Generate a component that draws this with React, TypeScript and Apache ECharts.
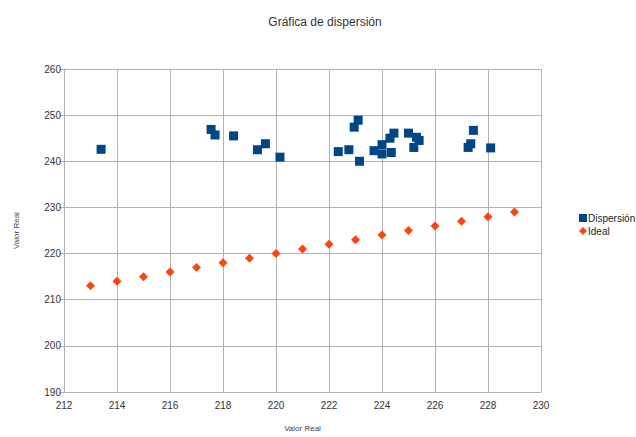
import React, { useEffect, useRef } from "react";
import * as echarts from "echarts";

const titleText = "Gráfica de dispersión";
const xAxisName = "Valor Real";
const yAxisName = "Valor Real";
const seriesNames = ["Dispersión", "Ideal"];

const dispX = [213.4, 217.55, 217.7, 218.4, 219.3, 219.6, 220.15, 222.35, 222.75, 222.95, 223.1, 223.15, 223.7, 224.0, 224.0, 224.35, 224.3, 224.45, 225.0, 225.3, 225.4, 225.2, 227.45, 227.35, 227.25, 228.1];
const dispY = [242.6, 246.9, 245.7, 245.5, 242.5, 243.8, 240.9, 242.1, 242.5, 247.4, 248.9, 240.0, 242.3, 243.6, 241.6, 241.9, 245.0, 246.1, 246.1, 245.2, 244.5, 243.0, 246.7, 243.8, 243.0, 242.9];

const idealX = [213, 214, 215, 216, 217, 218, 219, 220, 221, 222, 223, 224, 225, 226, 227, 228, 229];
const idealY = [213, 214, 215, 216, 217, 218, 219, 220, 221, 222, 223, 224, 225, 226, 227, 228, 229];

export default function App() {
  const ref = useRef<HTMLDivElement>(null);
  useEffect(() => {
    if (!ref.current) return;
    const chart = echarts.init(ref.current, null, { renderer: "svg" });
    const font = "'Liberation Sans', Arial, sans-serif";
    chart.setOption({
      animation: false,
      backgroundColor: "#ffffff",
      textStyle: { fontFamily: font },
      title: {
        text: titleText,
        left: 320,
        textAlign: "center",
        top: 11,
        textStyle: { fontSize: 12, fontWeight: "normal", color: "#333", fontFamily: font },
      },
      legend: {
        orient: "vertical",
        left: 574,
        top: 208,
        itemWidth: 8,
        itemHeight: 8,
        itemGap: 3,
        textStyle: { fontSize: 10, color: "#222", padding: [0, 0, 0, -4] },
        data: [
          { name: seriesNames[0], icon: "rect" },
          { name: seriesNames[1], icon: "diamond" },
        ],
      },
      grid: { left: 64, right: 95, top: 69, bottom: 42, containLabel: false },
      xAxis: {
        type: "value",
        min: 212,
        max: 230,
        interval: 2,
        name: xAxisName,
        nameLocation: "middle",
        nameGap: 32,
        nameTextStyle: { fontSize: 8, color: "#444" },
        axisLine: { show: true, onZero: false, lineStyle: { color: "#b3b3b3" } },
        axisTick: { show: false },
        axisLabel: { fontSize: 10, color: "#333", margin: 8 },
        splitLine: { show: true, lineStyle: { color: "#b3b3b3", width: 1 } },
      },
      yAxis: {
        type: "value",
        min: 190,
        max: 260,
        interval: 10,
        name: yAxisName,
        nameLocation: "middle",
        nameGap: 44,
        nameTextStyle: { fontSize: 8, color: "#444" },
        axisLine: { show: true, onZero: false, lineStyle: { color: "#b3b3b3" } },
        axisTick: { show: true, length: 5, lineStyle: { color: "#b3b3b3" } },
        axisLabel: { fontSize: 10, color: "#333", margin: 3 },
        splitLine: { show: true, lineStyle: { color: "#b3b3b3", width: 1 } },
      },
      series: [
        {
          name: seriesNames[0],
          type: "scatter",
          symbol: "rect",
          symbolSize: 9,
          itemStyle: { color: "#004586", opacity: 1 },
          data: dispX.map((x, i) => [x, dispY[i]]),
        },
        {
          name: seriesNames[1],
          type: "scatter",
          symbol: "diamond",
          symbolSize: 9,
          itemStyle: { color: "#ff420e", opacity: 1 },
          data: idealX.map((x, i) => [x, idealY[i]]),
        },
      ],
    });
    return () => chart.dispose();
  }, []);
  return <div ref={ref} style={{ width: 636, height: 437, position: "absolute", left: 0, top: 0 }} />;
}
